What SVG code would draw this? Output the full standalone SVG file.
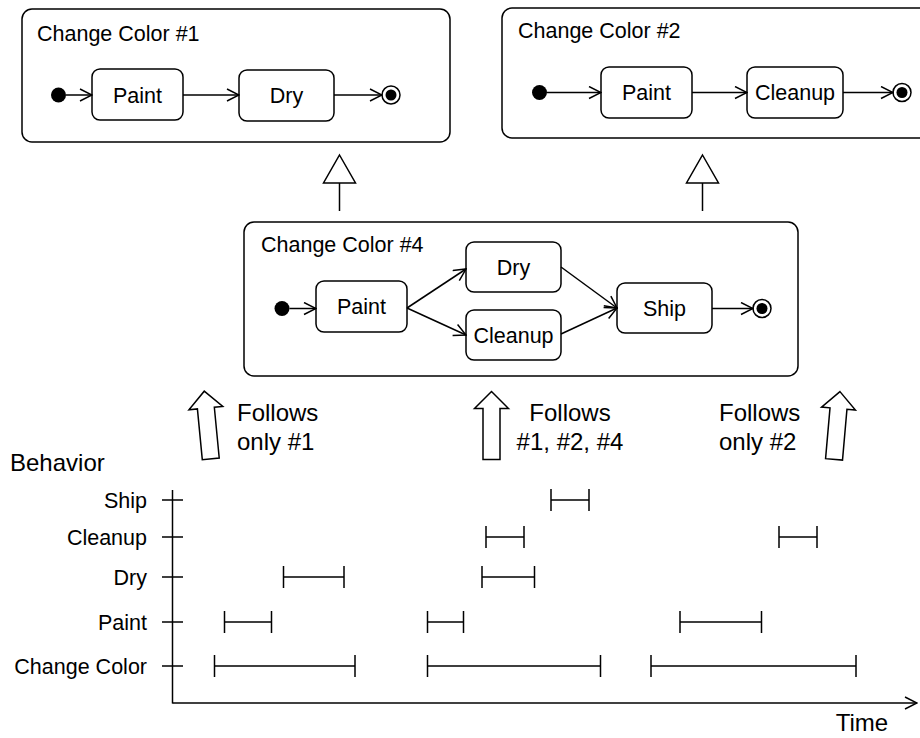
<svg xmlns="http://www.w3.org/2000/svg" width="920" height="738" viewBox="0 0 920 738">
<style>
text{font-family:"Liberation Sans",Arial,sans-serif;fill:#000}
.t{font-size:21.5px}
.c{font-size:21.5px;text-anchor:middle}
.big{font-size:24px}
.frame{fill:#fff;stroke:#000;stroke-width:1.5}
.st{fill:#fff;stroke:#000;stroke-width:1.5}
.ln{fill:none;stroke:#000;stroke-width:1.5}
.ar{fill:none;stroke:#000;stroke-width:1.5;marker-end:url(#open)}
.blk{fill:#fff;stroke:#000;stroke-width:1.5;stroke-linejoin:miter}
.lab{font-size:21.5px;text-anchor:end}
</style>
<defs>
<marker id="open" viewBox="0 0 14 14" refX="13" refY="7" markerWidth="14" markerHeight="14" markerUnits="userSpaceOnUse" orient="auto">
<path d="M1,1 L13,7 L1,13" fill="none" stroke="#000" stroke-width="1.5"/>
</marker>
<path id="blockArrow" d="M0,-34 L17,-17 L8.5,-17 L8.5,34 L-8.5,34 L-8.5,-17 L-17,-17 Z"/>
</defs>
<rect width="920" height="738" fill="#fff"/>

<g id="cc1">
<rect class="frame" x="22" y="9" width="428" height="133" rx="10"/>
<text class="t" x="37" y="41">Change Color #1</text>
<circle cx="58.5" cy="95" r="7.5" fill="#000"/>
<g id="cc1-paint"><rect class="st" x="92" y="69" width="91" height="51" rx="8"/><text class="c" x="137.5" y="102.5">Paint</text></g>
<g id="cc1-dry"><rect class="st" x="239" y="70" width="95" height="51" rx="8"/><text class="c" x="286.5" y="103">Dry</text></g>
<g id="cc1-final"><circle cx="391" cy="95" r="9" fill="#fff" stroke="#000" stroke-width="1.5"/><circle cx="391" cy="95" r="5.5" fill="#000"/></g>
</g>

<g id="cc2">
<rect class="frame" x="502" y="8" width="430" height="130" rx="10"/>
<text class="t" x="518" y="38">Change Color #2</text>
<circle cx="539.5" cy="92.5" r="7.5" fill="#000"/>
<g id="cc2-paint"><rect class="st" x="601" y="67" width="91" height="51" rx="8"/><text class="c" x="646.5" y="100">Paint</text></g>
<g id="cc2-cleanup"><rect class="st" x="747" y="67" width="96" height="51" rx="8"/><text class="c" x="795" y="100">Cleanup</text></g>
<g id="cc2-final"><circle cx="902" cy="92.5" r="9" fill="#fff" stroke="#000" stroke-width="1.5"/><circle cx="902" cy="92.5" r="5.5" fill="#000"/></g>
</g>

<g id="cc4">
<rect class="frame" x="244" y="222" width="554" height="154" rx="10"/>
<text class="t" x="261" y="252">Change Color #4</text>
<circle cx="282" cy="308.5" r="7.5" fill="#000"/>
<g id="cc4-paint"><rect class="st" x="316" y="281" width="91" height="51" rx="8"/><text class="c" x="361.5" y="314">Paint</text></g>
<g id="cc4-dry"><rect class="st" x="466" y="242" width="95" height="50" rx="8"/><text class="c" x="513.5" y="274.5">Dry</text></g>
<g id="cc4-cleanup"><rect class="st" x="466" y="310" width="95" height="50" rx="8"/><text class="c" x="513.5" y="342.5">Cleanup</text></g>
<g id="cc4-ship"><rect class="st" x="617" y="283" width="95" height="50" rx="8"/><text class="c" x="664.5" y="316">Ship</text></g>
<g id="cc4-final"><circle cx="762" cy="308.5" r="9" fill="#fff" stroke="#000" stroke-width="1.5"/><circle cx="762" cy="308.5" r="5.5" fill="#000"/></g>
</g>

<g id="connectors">
<line class="ar" x1="66" y1="95" x2="92" y2="95"/>
<line class="ar" x1="183" y1="95" x2="239" y2="95"/>
<line class="ar" x1="334" y1="95" x2="382" y2="95"/>
<line class="ar" x1="547" y1="92.5" x2="601" y2="92.5"/>
<line class="ar" x1="692" y1="92.5" x2="747" y2="92.5"/>
<line class="ar" x1="843" y1="92.5" x2="893" y2="92.5"/>
<line class="ar" x1="289.5" y1="308.5" x2="316" y2="308.5"/>
<line class="ar" x1="407" y1="308" x2="466" y2="269"/>
<line class="ar" x1="407" y1="308" x2="466" y2="335"/>
<line class="ar" x1="561" y1="267" x2="617" y2="308"/>
<line class="ar" x1="561" y1="334" x2="617" y2="308"/>
<line class="ar" x1="712" y1="308.5" x2="753" y2="308.5"/>
<g id="gen1"><line class="ln" x1="339.5" y1="183" x2="339.5" y2="211"/><polygon class="blk" points="339.5,155 355.5,183 323.5,183"/></g>
<g id="gen2"><line class="ln" x1="702.5" y1="183" x2="702.5" y2="211"/><polygon class="blk" points="702.5,155 718.5,183 686.5,183"/></g>
<use href="#blockArrow" class="blk" transform="translate(207.5,425) rotate(-5.5)"/>
<use href="#blockArrow" class="blk" transform="translate(491.5,425.5)"/>
<use href="#blockArrow" class="blk" transform="translate(837,425.5) rotate(5)"/>
</g>

<g id="labels">
<text class="big" x="237" y="421">Follows</text>
<text class="big" x="237" y="450">only #1</text>
<text class="big" x="570" y="421" text-anchor="middle">Follows</text>
<text class="big" x="570" y="450" text-anchor="middle">#1, #2, #4</text>
<text class="big" x="719" y="421">Follows</text>
<text class="big" x="719" y="450">only #2</text>
</g>

<g id="timeline">
<text class="big" x="10" y="471">Behavior</text>
<text class="big" x="862" y="731" text-anchor="middle">Time</text>
<line class="ln" x1="172.5" y1="490" x2="172.5" y2="703.5"/>
<line class="ar" x1="172.5" y1="703" x2="917" y2="703"/>
<g class="ln">
<path d="M162,500 H183 M162,537 H183 M162,577 H183 M162,622 H183 M162,666 H183"/>
</g>
<text class="lab" x="147" y="508">Ship</text>
<text class="lab" x="147" y="545">Cleanup</text>
<text class="lab" x="147" y="585">Dry</text>
<text class="lab" x="147" y="630">Paint</text>
<text class="lab" x="147" y="674">Change Color</text>
<path class="ln" d="
M551,500 H589 M551,489 V511 M589,489 V511
M486,537 H524 M486,526 V548 M524,526 V548
M779,537 H817 M779,526 V548 M817,526 V548
M283.5,577 H344 M283.5,566 V588 M344,566 V588
M482,577 H534.5 M482,566 V588 M534.5,566 V588
M224.5,622 H271.5 M224.5,611 V633 M271.5,611 V633
M427.5,622 H463.5 M427.5,611 V633 M463.5,611 V633
M680,622 H761.5 M680,611 V633 M761.5,611 V633
M214.5,666 H355 M214.5,655 V677 M355,655 V677
M427.5,666 H600.5 M427.5,655 V677 M600.5,655 V677
M651,666 H856 M651,655 V677 M856,655 V677"/>
</g>
</svg>
